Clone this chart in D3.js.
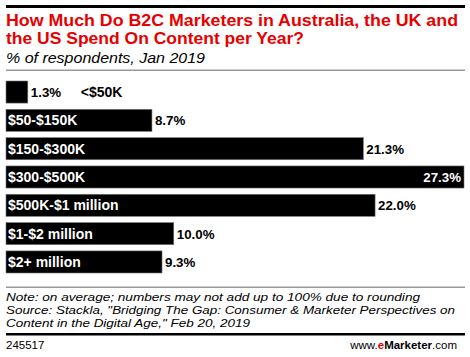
<!DOCTYPE html>
<html><head><meta charset="utf-8">
<script src="https://cdn.jsdelivr.net/npm/d3@7"></script>
<style>body{margin:0;background:#fff}svg{display:block;font-family:"Liberation Sans",Arial,sans-serif}</style>
</head><body>
<svg id="c" width="470" height="357"></svg>
<script>
const categories = ["<$50K","$50-$150K","$150-$300K","$300-$500K","$500K-$1 million","$1-$2 million","$2+ million"];
const values = [1.3, 8.7, 21.3, 27.3, 22.0, 10.0, 9.3];
const titleLines = ["How Much Do B2C Marketers in Australia, the UK and","the US Spend On Content per Year?"];
const subtitle = "% of respondents, Jan 2019";
const noteLines = ["Note: on average; numbers may not add up to 100% due to rounding",
 "Source: Stackla, \"Bridging The Gap: Consumer & Marketer Perspectives on",
 "Content in the Digital Age,\" Feb 20, 2019"];

const svg = d3.select("#c");
svg.append("rect").attr("x",6).attr("y",5).attr("width",459).attr("height",3).attr("fill","#000");
const titleW = [452, 298];
svg.selectAll(".t").data(titleLines).join("text")
  .attr("x",6).attr("y",(d,i)=>26+i*17.5).attr("fill","#e60000")
  .attr("font-weight","bold").attr("font-size",16.5)
  .attr("textLength",(d,i)=>titleW[i]).attr("lengthAdjust","spacingAndGlyphs").text(d=>d);
svg.append("text").attr("x",6).attr("y",63).attr("font-style","italic").attr("font-size",15.5)
  .attr("textLength",199).attr("lengthAdjust","spacingAndGlyphs").attr("fill","#000").text(subtitle);
svg.append("rect").attr("x",6).attr("y",69.5).attr("width",459).attr("height",1.5).attr("fill","#999");

const x = d3.scaleLinear().domain([0, 27.3]).range([6, 464]);
const y = d3.scaleBand().domain(categories).range([81, 273]).paddingInner(0.22).paddingOuter(0.0);

const g = svg.append("g");
g.selectAll("rect.bar").data(values).join("rect")
  .attr("x",x(0)).attr("y",(d,i)=>y(categories[i]))
  .attr("width",d=>x(d)-x(0)).attr("height",y.bandwidth())
  .attr("fill","#000").attr("stroke","#777").attr("stroke-width",0.6);

const fsC = 14, fsV = 13.3;
values.forEach((v,i)=>{
  const cy = y(categories[i]) + y.bandwidth()/2 + 5;
  const small = i===0;
  const inside = v===d3.max(values);
  const lab = v.toFixed(1)+"%";
  if (small) {
    g.append("text").attr("x",x(v)+3).attr("y",cy).attr("font-weight","bold").attr("font-size",fsV).attr("fill","#000").text(lab);
    g.append("text").attr("x",x(v)+53).attr("y",cy).attr("font-weight","bold").attr("font-size",fsC).attr("fill","#000").text(categories[i]);
  } else {
    g.append("text").attr("x",8).attr("y",cy).attr("font-weight","bold").attr("font-size",fsC).attr("fill","#fff").text(categories[i]);
    if (inside) {
      g.append("text").attr("x",x(v)-3).attr("y",cy).attr("text-anchor","end").attr("font-weight","bold").attr("font-size",fsV).attr("fill","#fff").text(lab);
    } else {
      g.append("text").attr("x",x(v)+3).attr("y",cy).attr("font-weight","bold").attr("font-size",fsV).attr("fill","#000").text(lab);
    }
  }
});

svg.append("rect").attr("x",6).attr("y",286.5).attr("width",459).attr("height",1.5).attr("fill","#999");
const noteW = [414, 449, 244];
svg.selectAll(".n").data(noteLines).join("text")
  .attr("x",6).attr("y",(d,i)=>301+i*13).attr("font-style","italic").attr("font-size",11.8)
  .attr("textLength",(d,i)=>noteW[i]).attr("lengthAdjust","spacingAndGlyphs")
  .attr("fill","#000").text(d=>d);
svg.append("rect").attr("x",6).attr("y",333).attr("width",459).attr("height",2.5).attr("fill","#000");
svg.append("text").attr("x",6).attr("y",349).attr("font-size",11.5).attr("fill","#000").text("245517");
const ft = svg.append("text").attr("x",457).attr("y",349).attr("text-anchor","end").attr("font-size",11.5).attr("fill","#000");
ft.append("tspan").text("www.");
ft.append("tspan").attr("fill","#e60000").attr("font-weight","bold").text("e");
ft.append("tspan").attr("font-weight","bold").text("Marketer");
ft.append("tspan").text(".com");
</script>
</body></html>
